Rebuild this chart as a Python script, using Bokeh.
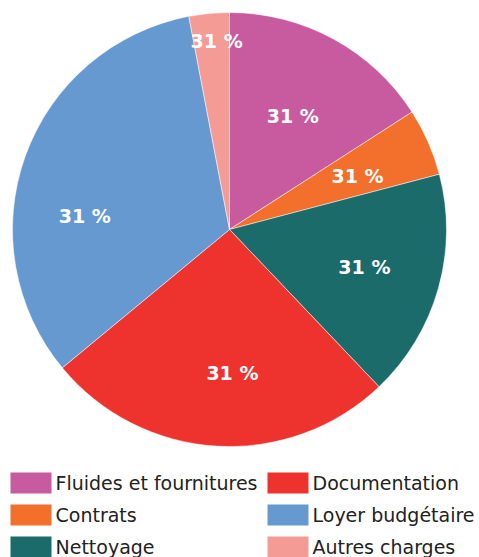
import math
from bokeh.plotting import figure
from bokeh.models import ColumnDataSource
from bokeh.core.properties import value
from bokeh.embed import file_html
from bokeh.resources import INLINE

categories = ["Fluides et fournitures", "Contrats", "Nettoyage", "Documentation", "Loyer budgétaire", "Autres charges"]
values = [15.9, 5.0, 17.0, 26.1, 33.0, 3.0]
labels = ["31 %", "31 %", "31 %", "31 %", "31 %", "31 %"]
colors = ["#C85A9F", "#F26F2C", "#1B6B6A", "#EE322E", "#6699CF", "#F49B95"]

# style: label placement (radius fraction, angular offset in degrees)
label_rfrac = [0.60, 0.64, 0.645, 0.66, 0.67, 0.87]
label_doff = [0.5, 1.0, -0.4, -4.6, -14.6, 1.5]

W, H = 479, 557
p = figure(width=W, height=H, x_range=(0, W), y_range=(0, H),
           output_backend="svg", toolbar_location=None, min_border=0)
p.axis.visible = False
p.grid.visible = False
p.outline_line_color = None
p.background_fill_color = "white"

cx, cy, R = 229, H - 229, 217
total = sum(values)
starts, ends, lx, ly = [], [], [], []
acc = 0.0
for v, rf, do in zip(values, label_rfrac, label_doff):
    a0 = acc / total * 2 * math.pi
    acc += v
    a1 = acc / total * 2 * math.pi
    starts.append(math.pi / 2 - a0)
    ends.append(math.pi / 2 - a1)
    mid = (a0 + a1) / 2 + math.radians(do)
    lx.append(cx + rf * R * math.sin(mid))
    ly.append(cy + rf * R * math.cos(mid))

src = ColumnDataSource(dict(start=starts, end=ends, color=colors, lx=lx, ly=ly, label=labels))
p.wedge(x=cx, y=cy, radius=R, start_angle="start", end_angle="end", direction="clock",
        fill_color="color", line_color="white", line_width=0.5, source=src)
p.text(x="lx", y="ly", text="label", source=src, text_color="white",
       text_font=value("DejaVu Sans"), text_font_style="bold", text_font_size="19px",
       text_align="center", text_baseline="middle")

# legend (two columns, three rows)
rows_y = [H - 482.5, H - 514.5, H - 546.5]
col_x = [10, 267]
sx, sy, tx, ty, names, sc = [], [], [], [], [], []
for i, (name, c) in enumerate(zip(categories, colors)):
    col, row = divmod(i, 3)
    sx.append(col_x[col] + 20.5)
    sy.append(rows_y[row])
    tx.append(col_x[col] + 45)
    ty.append(rows_y[row])
    names.append(name)
    sc.append(c)
lsrc = ColumnDataSource(dict(sx=sx, sy=sy, tx=tx, ty=ty, name=names, color=sc))
p.rect(x="sx", y="sy", width=41, height=21, fill_color="color", line_color=None, source=lsrc)
p.text(x="tx", y="ty", text="name", source=lsrc, text_color="#222222",
       text_font=value("DejaVu Sans"), text_font_size="19px",
       text_align="left", text_baseline="middle")

open("out.html", "w").write(file_html(p, INLINE))
